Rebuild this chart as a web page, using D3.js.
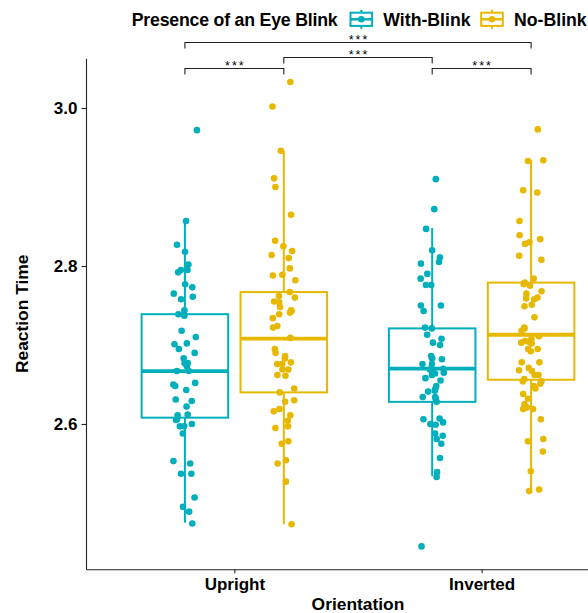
<!DOCTYPE html>
<html>
<head>
<meta charset="utf-8">
<script src="https://cdn.jsdelivr.net/npm/d3@7"></script>
<style>
  body { margin: 0; background: #ffffff; }
  svg { display: block; font-family: "Liberation Sans", Arial, sans-serif; }
</style>
</head>
<body>
<div id="canvas"></div>
<script>
"use strict"

/* ---- data ---- */
let orientations = ["Upright", "Inverted"];
let blinkGroups = ["With-Blink", "No-Blink"];
let blinkColours = ["#00AFBB", "#E7B800"];
let yTicks = [2.6, 2.8, 3.0];

/* reaction times of each participant (jittered dots) */
let uprightWithBlink = [2.972, 2.857, 2.827, 2.818, 2.802, 2.795, 2.795, 2.792, 2.777, 2.773,
    2.765, 2.761, 2.758, 2.744, 2.739, 2.739, 2.737, 2.718, 2.710, 2.702, 2.701, 2.695, 2.690,
    2.683, 2.677, 2.677, 2.673, 2.667, 2.667, 2.652, 2.650, 2.648, 2.643, 2.631, 2.629, 2.622,
    2.612, 2.611, 2.606, 2.605, 2.600, 2.597, 2.597, 2.588, 2.553, 2.550, 2.537, 2.537, 2.507,
    2.495, 2.489, 2.474];
let uprightNoBlink = [3.033, 3.002, 2.946, 2.911, 2.900, 2.865, 2.832, 2.825, 2.819, 2.814,
    2.810, 2.797, 2.789, 2.788, 2.782, 2.767, 2.762, 2.760, 2.755, 2.754, 2.748, 2.744, 2.743,
    2.741, 2.739, 2.734, 2.724, 2.722, 2.709, 2.695, 2.690, 2.686, 2.683, 2.678, 2.676, 2.676,
    2.669, 2.669, 2.662, 2.661, 2.645, 2.640, 2.630, 2.628, 2.619, 2.616, 2.611, 2.604, 2.597,
    2.595, 2.578, 2.575, 2.554, 2.550, 2.527, 2.473];
let invertedWithBlink = [2.910, 2.872, 2.847, 2.820, 2.811, 2.805, 2.803, 2.790, 2.784, 2.776,
    2.776, 2.750, 2.750, 2.743, 2.722, 2.721, 2.713, 2.708, 2.703, 2.700, 2.686, 2.683, 2.682,
    2.676, 2.676, 2.670, 2.669, 2.667, 2.665, 2.664, 2.662, 2.658, 2.655, 2.648, 2.644, 2.642,
    2.641, 2.634, 2.634, 2.632, 2.628, 2.607, 2.606, 2.602, 2.600, 2.599, 2.588, 2.585, 2.581,
    2.575, 2.557, 2.539, 2.533, 2.445];
let invertedNoBlink = [2.973, 2.934, 2.933, 2.896, 2.893, 2.857, 2.839, 2.834, 2.830, 2.828,
    2.813, 2.808, 2.784, 2.779, 2.777, 2.775, 2.768, 2.765, 2.760, 2.759, 2.758, 2.751, 2.749,
    2.735, 2.722, 2.721, 2.718, 2.711, 2.708, 2.705, 2.704, 2.703, 2.702, 2.695, 2.695, 2.692,
    2.678, 2.678, 2.671, 2.668, 2.667, 2.662, 2.662, 2.657, 2.654, 2.654, 2.651, 2.648, 2.645,
    2.638, 2.632, 2.625, 2.621, 2.619, 2.619, 2.606, 2.581, 2.578, 2.565, 2.540, 2.517, 2.515];

/* box statistics: lower whisker, Q1, median, Q3, upper whisker */
let uprightWithBox = [2.475, 2.608, 2.667, 2.739, 2.856];
let uprightNoBox = [2.473, 2.640, 2.708, 2.767, 2.946];
let invertedWithBox = [2.534, 2.628, 2.670, 2.721, 2.848];
let invertedNoBox = [2.516, 2.656, 2.713, 2.779, 2.934];

/* significance brackets: from group, to group, height, label */
let comparisons = [
    ["Upright", "With-Blink", "Upright", "No-Blink", 3.050, "***"],
    ["Inverted", "With-Blink", "Inverted", "No-Blink", 3.050, "***"],
    ["Upright", "No-Blink", "Inverted", "With-Blink", 3.064, "***"],
    ["Upright", "With-Blink", "Inverted", "No-Blink", 3.083, "***"]
];

let groups = [
    { orientation: "Upright", blink: "With-Blink", values: uprightWithBlink, box: uprightWithBox },
    { orientation: "Upright", blink: "No-Blink", values: uprightNoBlink, box: uprightNoBox },
    { orientation: "Inverted", blink: "With-Blink", values: invertedWithBlink, box: invertedWithBox },
    { orientation: "Inverted", blink: "No-Blink", values: invertedNoBlink, box: invertedNoBox }
];

/* ---- canvas ---- */
let drawing = d3.select("#canvas")
    .append("svg")
    .attr("width", 588)
    .attr("height", 613);

let panelLeft = 86, panelRight = 630, panelTop = 58.3, panelBottom = 569.3;

/* ---- scales ---- */
let x = d3.scalePoint()
    .domain(orientations)
    .range([panelLeft, panelRight])
    .padding(0.6);

let step = x.step();

let xDodge = d3.scaleBand()
    .domain(blinkGroups)
    .range([-0.4 * step, 0.4 * step]);

let boxWidth = xDodge.bandwidth() * 0.875;

let y = d3.scaleLinear()
    .domain([2.416, 3.063])
    .range([panelBottom, panelTop]);

let colour = d3.scaleOrdinal()
    .domain(blinkGroups)
    .range(blinkColours);

function groupCentre(orientation, blink) {
    return x(orientation) + xDodge(blink) + xDodge.bandwidth() / 2;
}

/* ---- boxplots ---- */
let boxes = drawing.append("g")
    .selectAll("g")
    .data(groups)
    .join("g")
    .attr("transform", d => "translate(" + groupCentre(d.orientation, d.blink) + ",0)");

boxes.append("line") /// lower whisker
    .attr("x1", 0).attr("x2", 0)
    .attr("y1", d => y(d.box[0]))
    .attr("y2", d => y(d.box[1]))
    .attr("stroke", d => colour(d.blink))
    .attr("stroke-width", 2);

boxes.append("line") /// upper whisker
    .attr("x1", 0).attr("x2", 0)
    .attr("y1", d => y(d.box[3]))
    .attr("y2", d => y(d.box[4]))
    .attr("stroke", d => colour(d.blink))
    .attr("stroke-width", 2);

boxes.append("rect")
    .attr("x", -boxWidth / 2)
    .attr("width", boxWidth)
    .attr("y", d => y(d.box[3]))
    .attr("height", d => y(d.box[1]) - y(d.box[3]))
    .attr("fill", "#ffffff")
    .attr("stroke", d => colour(d.blink))
    .attr("stroke-width", 2);

boxes.append("line") /// median
    .attr("x1", -boxWidth / 2)
    .attr("x2", boxWidth / 2)
    .attr("y1", d => y(d.box[2]))
    .attr("y2", d => y(d.box[2]))
    .attr("stroke", d => colour(d.blink))
    .attr("stroke-width", 3.8);

/* ---- jittered points ---- */
let jitter = d3.randomUniform.source(d3.randomLcg(0.27))(-0.05 * step, 0.05 * step);

let points = [];
groups.forEach(g => {
    g.values.forEach(v => {
        points.push({ blink: g.blink, value: v, cx: groupCentre(g.orientation, g.blink) + jitter() });
    });
});

drawing.append("g")
    .selectAll("circle")
    .data(points)
    .join("circle")
    .attr("cx", d => d.cx)
    .attr("cy", d => y(d.value))
    .attr("r", 3.3)
    .attr("fill", d => colour(d.blink));

/* ---- axes ---- */
let yAxis = drawing.append("g")
    .attr("transform", "translate(" + panelLeft + ",0)")
    .call(d3.axisLeft(y)
        .tickValues(yTicks)
        .tickFormat(d3.format(".1f"))
        .tickSize(4.5)
        .tickSizeOuter(0)
        .tickPadding(4));

let xAxis = drawing.append("g")
    .attr("transform", "translate(0," + panelBottom + ")")
    .call(d3.axisBottom(x)
        .tickSize(4)
        .tickSizeOuter(0)
        .tickPadding(4.6));

[yAxis, xAxis].forEach(a => {
    a.select(".domain").attr("stroke", "#222").attr("stroke-width", 1.1);
    a.selectAll(".tick line").attr("stroke", "#222").attr("stroke-width", 1.1);
    a.selectAll(".tick text")
        .attr("fill", "#000")
        .attr("font-size", 17)
        .attr("font-weight", "bold")
        .attr("font-family", "Liberation Sans, Arial, sans-serif");
});

let yTitle = drawing.append("text")
    .attr("transform", "translate(28," + ((panelTop + panelBottom) / 2) + ") rotate(-90)")
    .attr("text-anchor", "middle")
    .attr("font-size", 17.4)
    .attr("font-weight", "bold")
    .text("Reaction Time");

let xTitle = drawing.append("text")
    .attr("x", (panelLeft + panelRight) / 2)
    .attr("y", 610)
    .attr("text-anchor", "middle")
    .attr("font-size", 17.4)
    .attr("font-weight", "bold")
    .text("Orientation");

/* ---- significance brackets ---- */
let brackets = drawing.append("g")
    .selectAll("g")
    .data(comparisons)
    .join("g");

brackets.append("path")
    .attr("d", d => {
        let x1 = groupCentre(d[0], d[1]);
        let x2 = groupCentre(d[2], d[3]);
        let yy = y(d[4]);
        return "M" + x1 + "," + (yy + 6) + "V" + yy + "H" + x2 + "V" + (yy + 6);
    })
    .attr("fill", "none")
    .attr("stroke", "#222")
    .attr("stroke-width", 1.1);

brackets.append("text")
    .attr("x", d => (groupCentre(d[0], d[1]) + groupCentre(d[2], d[3])) / 2 + 1)
    .attr("y", d => y(d[4]) + 1.7)
    .attr("text-anchor", "middle")
    .attr("font-size", 12.5)
    .attr("letter-spacing", 2)
    .text(d => d[5]);

/* ---- legend ---- */
let legend = drawing.append("g");

legend.append("text")
    .attr("x", 131.7)
    .attr("y", 25.5)
    .attr("font-size", 17.7)
    .attr("font-weight", "bold")
    .attr("textLength", 206)
    .attr("lengthAdjust", "spacing")
    .text("Presence of an Eye Blink");

let legendKeyX = [361.3, 492];
let legendLabelX = [383.3, 514];

let keys = legend.selectAll("g")
    .data(blinkGroups)
    .join("g")
    .attr("transform", (d, i) => "translate(" + legendKeyX[i] + ",19.3)");

keys.append("line")
    .attr("x1", 0).attr("x2", 0)
    .attr("y1", -9.5).attr("y2", 9.5)
    .attr("stroke", d => colour(d))
    .attr("stroke-width", 2);

keys.append("rect")
    .attr("x", -10.8).attr("y", -6.6)
    .attr("width", 21.6).attr("height", 13.2)
    .attr("fill", "#ffffff")
    .attr("stroke", d => colour(d))
    .attr("stroke-width", 2);

keys.append("line")
    .attr("x1", -10.8).attr("x2", 10.8)
    .attr("y1", 0).attr("y2", 0)
    .attr("stroke", d => colour(d))
    .attr("stroke-width", 2.5);

keys.append("circle")
    .attr("r", 3.3)
    .attr("fill", d => colour(d));

keys.append("text")
    .attr("x", (d, i) => legendLabelX[i] - legendKeyX[i])
    .attr("y", 6.2)
    .attr("font-size", 17.7)
    .attr("font-weight", "bold")
    .text(d => d);
</script>
</body>
</html>
